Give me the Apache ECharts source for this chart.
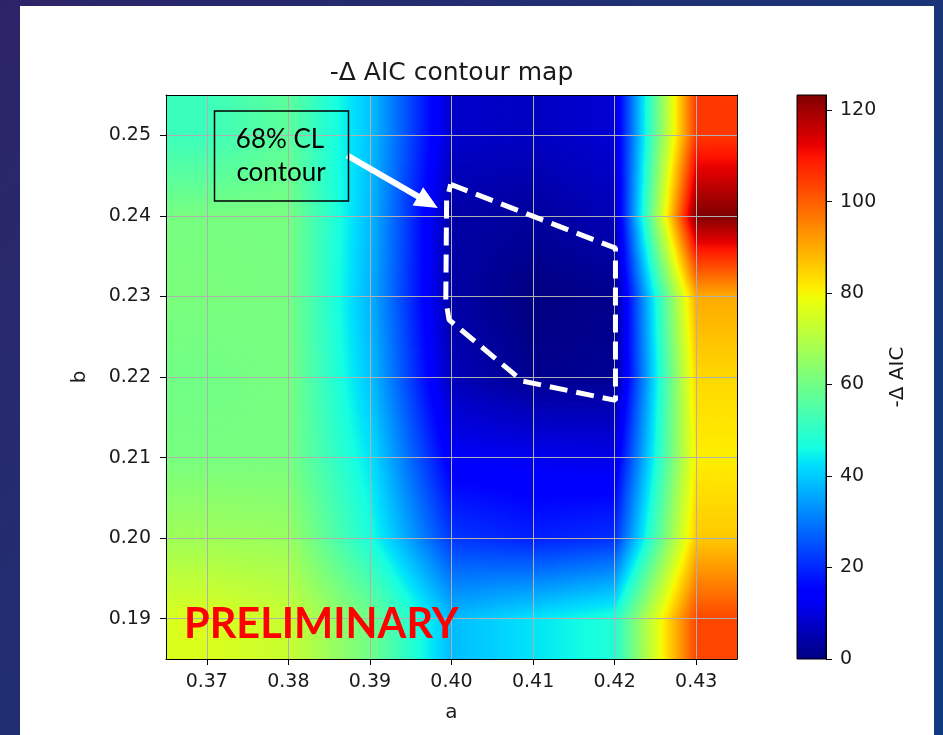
<!DOCTYPE html>
<html><head><meta charset="utf-8">
<script src="https://cdn.jsdelivr.net/npm/echarts@6/dist/echarts.min.js"></script>
<style>html,body{margin:0;padding:0;background:#1b3274;}#c{width:943px;height:735px;}</style>
</head><body><div id="c"></div>
<script>
// ---------------- data ----------------
const aTicks = [0.37, 0.38, 0.39, 0.40, 0.41, 0.42, 0.43];
const bTicks = [0.19, 0.20, 0.21, 0.22, 0.23, 0.24, 0.25];
const cbTicks = [0, 20, 40, 60, 80, 100, 120];
const aRange = [0.365, 0.435];
const bRange = [0.185, 0.255];
// grid nodes of the -ΔAIC map
const aNodes = [0.37, 0.38, 0.39, 0.40, 0.41, 0.42, 0.43];
const bNodes = [0.19, 0.20, 0.21, 0.22, 0.23, 0.24, 0.25];
// -ΔAIC values per b row (columns follow aNodes)
const aic_b019 = [76, 73, 60, 38, 43, 48, 103];
const aic_b020 = [67, 66, 47, 22, 19, 21, 86];
const aic_b021 = [61, 61, 43, 13, 12, 11, 81];
const aic_b022 = [60, 61, 39, 6, 1.5, 2, 84];
const aic_b023 = [61.5, 61, 37, 4, 0, 1.5, 90];
const aic_b024 = [61, 61, 38, 4, 3, 6, 123.3];
const aic_b025 = [52, 57, 39, 8, 7, 9, 105];
// 68% CL contour (a, b)
const contourA = [0.3999, 0.4201, 0.4201, 0.4087, 0.3997, 0.3993, 0.3994, 0.3999];
const contourB = [0.2439, 0.2360, 0.2171, 0.2195, 0.2271, 0.2295, 0.2419, 0.2439];
// annotation arrow (a, b)
const arrowFrom = [0.3872, 0.2475];
const arrowTo = [0.3971, 0.2417];

// ---------------- helpers ----------------
const rows = [aic_b019, aic_b020, aic_b021, aic_b022, aic_b023, aic_b024, aic_b025];
const VMAX = Math.max.apply(null, rows.map(r => Math.max.apply(null, r)));
const VMIN = 0;

const JR = [[0,0],[0.35,0],[0.66,1],[0.89,1],[1,0.5]];
const JG = [[0,0],[0.125,0],[0.375,1],[0.64,1],[0.91,0],[1,0]];
const JB = [[0,0.5],[0.11,1],[0.34,1],[0.65,0],[1,0]];
const JBREAKS = [0,0.11,0.125,0.34,0.35,0.375,0.64,0.65,0.66,0.89,0.91,1];
function seg(t, p){
  if (t <= p[0][0]) return p[0][1];
  for (let k = 0; k < p.length - 1; k++) {
    if (t <= p[k+1][0]) return p[k][1] + (t - p[k][0]) / (p[k+1][0] - p[k][0]) * (p[k+1][1] - p[k][1]);
  }
  return p[p.length-1][1];
}
function jet(t){
  t = Math.max(0, Math.min(1, t));
  const r = Math.round(seg(t, JR) * 255), g = Math.round(seg(t, JG) * 255), b = Math.round(seg(t, JB) * 255);
  return 'rgb(' + r + ',' + g + ',' + b + ')';
}
function norm(v){ return (v - VMIN) / (VMAX - VMIN); }

// extended node grid (edge values held constant to the image border)
const axE = [aRange[0]].concat(aNodes, [aRange[1]]);
const byE = [bRange[0]].concat(bNodes, [bRange[1]]);
const rowsE0 = rows.map(r => [r[0]].concat(r, [r[r.length-1]]));
const rowsE = [rowsE0[0]].concat(rowsE0, [rowsE0[rowsE0.length-1]]);
const cells = [];
for (let j = 0; j < byE.length - 1; j++) {
  for (let i = 0; i < axE.length - 1; i++) {
    cells.push([axE[i], byE[j], axE[i+1], byE[j+1],
      rowsE[j][i], rowsE[j][i+1], rowsE[j+1][i], rowsE[j+1][i+1]]);
  }
}

function triFill(P, T){
  const tmin = Math.min(T[0], T[1], T[2]), tmax = Math.max(T[0], T[1], T[2]);
  if (tmax - tmin < 1e-6) return jet(tmin);
  const x1 = P[0][0], y1 = P[0][1], x2 = P[1][0], y2 = P[1][1], x3 = P[2][0], y3 = P[2][1];
  const det = (x2 - x1) * (y3 - y1) - (x3 - x1) * (y2 - y1);
  if (Math.abs(det) < 1e-9) return jet((tmin + tmax) / 2);
  const ga = ((T[1] - T[0]) * (y3 - y1) - (T[2] - T[0]) * (y2 - y1)) / det;
  const gb = ((x2 - x1) * (T[2] - T[0]) - (x3 - x1) * (T[1] - T[0])) / det;
  const g2 = ga * ga + gb * gb;
  if (g2 < 1e-14) return jet((tmin + tmax) / 2);
  const sx = x1 + (tmin - T[0]) * ga / g2, sy = y1 + (tmin - T[0]) * gb / g2;
  const ex = x1 + (tmax - T[0]) * ga / g2, ey = y1 + (tmax - T[0]) * gb / g2;
  const stops = [{offset: 0, color: jet(tmin)}];
  JBREAKS.forEach(b => { if (b > tmin && b < tmax) stops.push({offset: (b - tmin) / (tmax - tmin), color: jet(b)}); });
  stops.push({offset: 1, color: jet(tmax)});
  return new echarts.graphic.LinearGradient(sx, sy, ex, ey, stops, true);
}

// bilinear shading of one cell, drawn as sub-quads each split into 4 linear-gradient triangles
const SUB = 3;
function renderCell(params, api){
  const a0 = api.value(0), b0 = api.value(1), a1 = api.value(2), b1 = api.value(3);
  const pA = api.coord([a0, b0]), pB = api.coord([a1, b1]);
  const t00 = norm(api.value(4)), t10 = norm(api.value(5)), t01 = norm(api.value(6)), t11 = norm(api.value(7));
  const bil = (u, w) => t00 * (1 - u) * (1 - w) + t10 * u * (1 - w) + t01 * (1 - u) * w + t11 * u * w;
  const pos = (u, w) => [pA[0] + (pB[0] - pA[0]) * u, pA[1] + (pB[1] - pA[1]) * w];
  const children = [];
  for (let m = 0; m < SUB; m++) {
    for (let k = 0; k < SUB; k++) {
      const u0 = m / SUB, u1 = (m + 1) / SUB, w0 = k / SUB, w1 = (k + 1) / SUB;
      const q00 = pos(u0, w0), q10 = pos(u1, w0), q01 = pos(u0, w1), q11 = pos(u1, w1);
      const s00 = bil(u0, w0), s10 = bil(u1, w0), s01 = bil(u0, w1), s11 = bil(u1, w1);
      const qc = pos((u0 + u1) / 2, (w0 + w1) / 2), sc = bil((u0 + u1) / 2, (w0 + w1) / 2);
      const tris = [
        [[q00, q10, qc], [s00, s10, sc]],
        [[q10, q11, qc], [s10, s11, sc]],
        [[q11, q01, qc], [s11, s01, sc]],
        [[q01, q00, qc], [s01, s00, sc]]
      ];
      tris.forEach(tr => {
        const f = triFill(tr[0], tr[1]);
        children.push({type: 'polygon', shape: {points: tr[0]}, style: {fill: f, stroke: f, lineWidth: 1.3}});
      });
    }
  }
  return {type: 'group', children: children};
}

function renderColorbar(params, api){
  const p0 = api.coord([0, VMIN]), p1 = api.coord([1, VMAX]);
  const stops = JBREAKS.map(b => ({offset: b, color: jet(b)}));
  return {
    type: 'rect',
    shape: {x: p0[0], y: p1[1], width: p1[0] - p0[0], height: p0[1] - p1[1]},
    style: {fill: new echarts.graphic.LinearGradient(0, 1, 0, 0, stops), stroke: '#000', lineWidth: 1}
  };
}

const FONT = 'DejaVu Sans';
const TXT = '#1a1a1a';
const chart = echarts.init(document.getElementById('c'), null, {renderer: 'canvas'});

const option = {
  animation: false,
  backgroundColor: new echarts.graphic.LinearGradient(0, 0, 1, 1, [
    {offset: 0, color: '#2d2468'}, {offset: 0.5, color: '#1d3275'}, {offset: 1, color: '#0f3a82'}
  ]),
  graphic: [
    {type: 'rect', z: -10, shape: {x: 20, y: 6, width: 914, height: 740}, style: {fill: '#ffffff'}},
    {type: 'text', z: 10, x: 451.5, y: 73, style: {text: '-\u0394 AIC contour map', align: 'center', verticalAlign: 'middle', font: '25px "DejaVu Sans"', fill: TXT}},
    {type: 'rect', z: 10, shape: {x: 214.5, y: 111, width: 134, height: 90}, style: {fill: 'rgba(0,0,0,0)', stroke: '#000', lineWidth: 1.5}},
    {type: 'text', z: 10, x: 280, y: 140, style: {text: '68% CL', align: 'center', verticalAlign: 'middle', font: '26px Lato', fill: '#000'}},
    {type: 'text', z: 10, x: 281, y: 173, style: {text: 'contour', align: 'center', verticalAlign: 'middle', font: '26px Lato', fill: '#000'}},
    {type: 'text', z: 10, x: 184, y: 625, style: {text: 'PRELIMINARY', align: 'left', verticalAlign: 'middle', font: 'bold 41.5px Lato', fill: '#ff0000'}}
  ],
  grid: [
    {left: 166, top: 95, width: 571, height: 564, outerBoundsMode: 'none', containLabel: false},
    {left: 797, top: 95, width: 29, height: 564, outerBoundsMode: 'none', containLabel: false}
  ],
  xAxis: [
    {
      gridIndex: 0, type: 'value', min: aRange[0], max: aRange[1], position: 'bottom', z: 3,
      name: 'a', nameLocation: 'middle', nameGap: 44,
      nameTextStyle: {fontFamily: FONT, fontSize: 20, color: TXT},
      axisLine: {show: true, onZero: false, lineStyle: {color: '#000', width: 1}},
      axisTick: {show: true, inside: false, customValues: aTicks, length: 6, lineStyle: {color: '#000', width: 1}},
      axisLabel: {customValues: aTicks, formatter: v => Number(v).toFixed(2), margin: 14, fontFamily: FONT, fontSize: 19, color: TXT},
      splitLine: {show: true, lineStyle: {color: '#b0b0b0', width: 1}}
    },
    {
      gridIndex: 0, type: 'value', min: aRange[0], max: aRange[1], position: 'top', z: 3,
      axisLine: {show: true, onZero: false, lineStyle: {color: '#000', width: 1}},
      axisTick: {show: false}, axisLabel: {show: false}, splitLine: {show: false}
    },
    {gridIndex: 1, type: 'value', min: 0, max: 1, show: false}
  ],
  yAxis: [
    {
      gridIndex: 0, type: 'value', min: bRange[0], max: bRange[1], position: 'left', z: 3,
      name: 'b', nameLocation: 'middle', nameGap: 76,
      nameTextStyle: {fontFamily: FONT, fontSize: 20, color: TXT},
      axisLine: {show: true, onZero: false, lineStyle: {color: '#000', width: 1}},
      axisTick: {show: true, inside: false, customValues: bTicks, length: 6, lineStyle: {color: '#000', width: 1}},
      axisLabel: {customValues: bTicks, formatter: v => Number(v).toFixed(2), margin: 15, fontFamily: FONT, fontSize: 19, color: TXT},
      splitLine: {show: true, lineStyle: {color: '#b0b0b0', width: 1}}
    },
    {
      gridIndex: 0, type: 'value', min: bRange[0], max: bRange[1], position: 'right', z: 3,
      axisLine: {show: true, onZero: false, lineStyle: {color: '#000', width: 1}},
      axisTick: {show: false}, axisLabel: {show: false}, splitLine: {show: false}
    },
    {
      gridIndex: 1, type: 'value', min: VMIN, max: VMAX, position: 'right', z: 3,
      name: '-\u0394 AIC', nameLocation: 'middle', nameGap: 62,
      nameTextStyle: {fontFamily: FONT, fontSize: 20, color: TXT},
      axisLine: {show: true, onZero: false, lineStyle: {color: '#000', width: 1}},
      axisTick: {show: true, inside: false, customValues: cbTicks, length: 6, lineStyle: {color: '#000', width: 1}},
      axisLabel: {customValues: cbTicks, margin: 14, fontFamily: FONT, fontSize: 19, color: TXT},
      splitLine: {show: false}
    }
  ],
  series: [
    {
      type: 'custom', name: 'map', coordinateSystem: 'cartesian2d', xAxisIndex: 0, yAxisIndex: 0,
      clip: true, silent: true, z: 1, renderItem: renderCell,
      encode: {x: [0, 2], y: [1, 3]}, data: cells
    },
    {
      type: 'custom', name: 'colorbar', coordinateSystem: 'cartesian2d', xAxisIndex: 2, yAxisIndex: 2,
      silent: true, z: 1, renderItem: renderColorbar, encode: {x: 0, y: 1}, data: [[0, VMIN]]
    },
    {
      type: 'line', name: 'contour', xAxisIndex: 0, yAxisIndex: 0, z: 6, silent: true,
      symbol: 'none', showSymbol: false,
      lineStyle: {color: '#ffffff', width: 5, type: [18, 9]},
      data: contourA.map((a, k) => [a, contourB[k]]),
      markLine: {
        silent: true, z: 7, symbol: ['none', 'triangle'], symbolSize: [21, 23],
        label: {show: false},
        lineStyle: {color: '#ffffff', width: 6, type: 'solid', opacity: 1},
        itemStyle: {color: '#ffffff'},
        emphasis: {disabled: true},
        data: [[{coord: arrowFrom}, {coord: arrowTo}]]
      }
    }
  ]
};
chart.setOption(option);
</script>
</body></html>
